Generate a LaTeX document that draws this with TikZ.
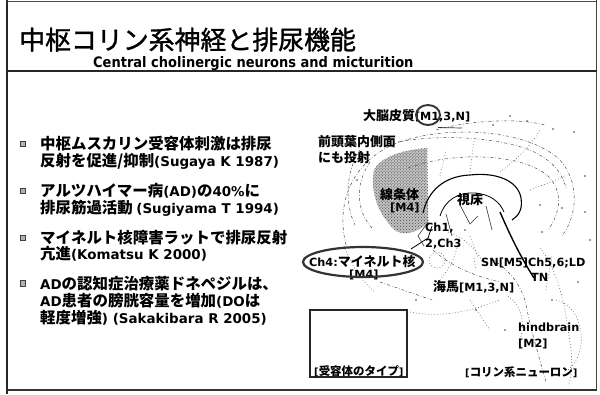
\documentclass[tikz,border=0pt]{standalone}
\usepackage{fontspec}
\usetikzlibrary{patterns}
\newfontfamily\jp{Noto Sans CJK JP}
\newfontfamily\jptitle{Noto Sans CJK JP}[FakeBold=1.2]
\newfontfamily\en{DejaVu Sans}[Scale=0.87]
\newfontfamily\ensub{DejaVu Sans}
\newcommand\lt[1]{{\en #1}}

\begin{document}
\begin{tikzpicture}[x=1bp,y=-1bp,
  frame/.style={line width=1.6bp, black!85},
  titletext/.style={anchor=base west, inner sep=0, font=\jptitle\fontsize{26}{30}\selectfont},
  subtext/.style={anchor=base west, inner sep=0, font=\ensub\bfseries\fontsize{14.5}{17}\selectfont},
  bodytext/.style={anchor=base west, inner sep=0, font=\jp\bfseries\fontsize{15.5}{18}\selectfont},
  tag/.style={anchor=base west, inner sep=0, font=\jp\bfseries\fontsize{13}{15}\selectfont},
  smalltag/.style={anchor=base west, inner sep=0, font=\jp\bfseries\fontsize{11.5}{13}\selectfont},
  bulletsq/.style={draw=black!75, fill=black!30, line width=1bp, minimum size=5.5bp, inner sep=0},
  contour/.style={black!70, line width=0.5bp, dash pattern=on 3bp off 2bp on 0.6bp off 2bp},
  dotline/.style={black!60, line width=0.6bp, dash pattern=on 0.8bp off 2.2bp},
  fiber/.style={black, line width=1.1bp},
  ring/.style={draw=black!80, line width=1.9bp},
  speck/.style={fill=black!75},
]

\useasboundingbox (0,0) rectangle (600,394);
\fill[white] (0,0) rectangle (600,394);

% slide frame
\draw[frame] (7,0) -- (7,394);
\draw[black!70, line width=0.8bp] (7,1.5) -- (597,1.5);
\draw[black!75, line width=1bp] (596.5,0) -- (596.5,391);
\draw[frame] (7,71) -- (597,71);
\draw[black!80, line width=1.4bp] (7,390) -- (597,390);

% heading
\node[titletext] (title) at (19,49.5) {中枢コリン系神経と排尿機能};
\node[subtext] (subtitle) at (93,67.5) {\scalebox{0.9}[1]{Central cholinergic neurons and micturition}};

% bullet list
\node[bulletsq] (b1) at (23,144) {};
\node[bulletsq] (b2) at (23,191) {};
\node[bulletsq] (b3) at (23,238) {};
\node[bulletsq] (b4) at (23,283.5) {};

\node[bodytext] (l1) at (40,149) {中枢ムスカリン受容体刺激は排尿};
\node[bodytext] (l2) at (40,166) {反射を促進/抑制\lt{(Sugaya K 1987)}};
\node[bodytext] (l3) at (40,196) {アルツハイマー病\lt{(AD)}の\lt{40\%}に};
\node[bodytext] (l4) at (40,213) {排尿筋過活動 \lt{(Sugiyama T 1994)}};
\node[bodytext] (l5) at (40,243) {マイネルト核障害ラットで排尿反射};
\node[bodytext] (l6) at (40,259) {亢進\lt{(Komatsu K 2000)}};
\node[bodytext] (l7) at (40,289) {\lt{AD}の認知症治療薬ドネペジルは、};
\node[bodytext] (l8) at (40,306) {\lt{AD}患者の膀胱容量を増加\lt{(DO}は};
\node[bodytext] (l9) at (40,323) {軽度増強\lt{) (Sakakibara R 2005)}};

% ---- brain sketch ----
% striatum, stippled
\fill[black!24] (427,148) -- (428,222) .. controls (420,232) and (405,236) .. (396,231)
  .. controls (378,215) and (370,192) .. (374,170) .. controls (380,158) and (400,150) .. cycle;
\fill[pattern=crosshatch dots, pattern color=black!75] (427,148) -- (428,222) .. controls (420,232) and (405,236) .. (396,231)
  .. controls (378,215) and (370,192) .. (374,170) .. controls (380,158) and (400,150) .. cycle;
\draw[dotline] (427,148) -- (428,222);

% cortical outlines
\draw[contour] (346,245) .. controls (336,205) and (350,165) .. (392,145)
  .. controls (435,126) and (520,126) .. (558,158) .. controls (580,180) and (578,215) .. (562,236);
\draw[contour] (398,142) .. controls (440,134) and (495,137) .. (530,150)
  .. controls (552,160) and (562,172) .. (566,188);
\draw[contour] (408,168) .. controls (450,152) and (520,152) .. (548,176)
  .. controls (564,192) and (560,214) .. (548,230);
\draw[contour] (370,162) .. controls (354,185) and (357,212) .. (372,228);
\draw[contour] (360,150) .. controls (345,172) and (345,205) .. (355,225);
\draw[contour] (436,130) .. controls (470,120) and (520,118) .. (545,125);
\draw[black!80, line width=0.7bp] (438,127.5) -- (462,128);
\draw[dotline] (440,176) -- (446,150);
\draw[dotline] (470,172) -- (474,140);
\draw[dotline] (500,172) .. controls (515,160) and (528,150) .. (540,130);
\draw[dotline] (530,190) -- (566,176);

% thalamic arcs and descending tract
\draw[fiber] (423,213) .. controls (428,190) and (445,176) .. (470,175)
  .. controls (495,172) and (518,180) .. (521,198) .. controls (523,210) and (518,216) .. (512,220);
\draw[black, line width=0.8bp] (440,216) .. controls (445,200) and (458,192) .. (475,193)
  .. controls (490,194) and (500,202) .. (504,212);
\draw[black, line width=1.4bp] (500,212) .. controls (510,235) and (520,256) .. (534,278);
\draw[black!80, line width=0.6bp] (446,214) -- (452,236);
\draw[black!80, line width=0.6bp] (460,205) -- (470,224) -- (478,216);
\draw[black!80, line width=0.6bp] (486,206) -- (492,230);
\draw[black, line width=0.8bp] (411,249) -- (428,238) -- (432,226);
\draw[black!80, line width=0.6bp] (428,222) -- (418,236) -- (424,246);

% basal forebrain / hippocampal region
\draw[dotline] (437,260) circle (8);
\draw[dotline] (448,232) .. controls (470,240) and (480,255) .. (482,262);
\draw[contour] (433,250) .. controls (450,265) and (470,275) .. (500,282);
\draw[dotline] (470,236) -- (478,258);
\draw[dotline] (458,242) .. controls (455,262) and (446,272) .. (440,280);
\draw[contour] (380,282) -- (432,300);
\draw[dotline] (410,312) .. controls (440,318) and (470,312) .. (500,300);
\draw[dotline] (344,246) .. controls (350,262) and (360,280) .. (375,292);
\draw[dotline] (474,258) -- (476,270);
\draw[dotline] (470,300) -- (490,330);

% brainstem and cerebellum
\draw[contour] (490,258) .. controls (510,270) and (522,286) .. (526,305)
  .. controls (532,335) and (540,360) .. (546,382);
\draw[dotline] (540,248) .. controls (556,268) and (564,298) .. (568,330)
  .. controls (572,352) and (574,372) .. (568,386);
\draw[dotline] (556,300) .. controls (584,306) and (590,352) .. (568,370);
\draw[dotline] (508,296) .. controls (520,305) and (526,318) .. (520,340);
\draw[dotline] (546,290) -- (552,256);

% scattered specks
\foreach \p in {(527,121),(553,129),(510,116),(574,132),(585,176),(562,208),(542,232),
  (352,247),(357,180),(388,262),(476,310),(505,330),(552,300),(578,282),(590,240),
  (465,230),(416,300),(540,205),(493,125),(585,212)}
  \fill[speck] \p circle (0.8);

% labels on the sketch
\node[tag] (cortex) at (363,120) {大脳皮質\lt{[M1,3,N]}};
\draw[ring] (428,115) ellipse (12 and 10);
\node[tag] (medial1) at (318,146) {前頭葉内側面};
\node[tag] (medial2) at (318,162) {にも投射};
\node[tag] (striatum) at (380,199) {線条体};
\node[tag] (striatumR) at (390,211) {\lt{[M4]}};
\node[tag] (thalamus) at (457,204) {視床};
\node[tag] (ch1) at (425,231.5) {\lt{Ch1,}};
\node[tag] (ch3) at (425,247.5) {\lt{2,Ch3}};
\node[tag] (ch4) at (309,266) {\lt{Ch4:}マイネルト核};
\node[tag] (ch4R) at (349,278.5) {\lt{[M4]}};
\draw[ring, line width=2.2bp] (363,262) ellipse (60 and 15);
\node[tag] (sn) at (481,266.5) {\lt{SN[M5]Ch5,6;LD}};
\node[tag] (tn) at (531,281.5) {\lt{TN}};
\node[tag] (hippo) at (433,291) {海馬\lt{[M1,3,N]}};
\node[tag] (hind) at (518,331.5) {\lt{hindbrain}};
\node[tag] (hindR) at (518,347.5) {\lt{[M2]}};

% legend box and captions
\draw[black!85, line width=1.3bp] (310,310) rectangle (407,377);
\node[smalltag] (receptor) at (314,375.5) {\lt{[}受容体のタイプ\lt{]}};
\node[smalltag] (neuron) at (465,376.5) {\lt{[}コリン系ニューロン\lt{]}};

\end{tikzpicture}
\end{document}
